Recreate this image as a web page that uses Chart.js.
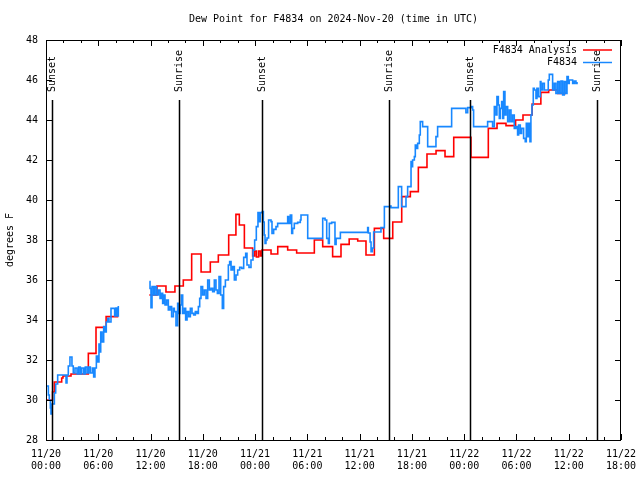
<!DOCTYPE html>
<html>
<head>
<meta charset="utf-8">
<script src="https://cdn.jsdelivr.net/npm/chart.js@4"></script>
<style>
  html, body { margin: 0; padding: 0; background: #fff; }
</style>
</head>
<body>
<canvas id="chart" width="640" height="480"></canvas>
<script>
// hours since 2024-11-20 00:00 UTC
const analysisHours = [0.1, 0.75, 0.95, 1.8, 1.95, 2.87, 4.86, 5.74, 6.9, 8.3, 10,
  11.86, 12.74, 13.77, 14.8, 15.76, 16.72, 17.8, 18.86, 19.78, 20.97,
  21.8, 22.19, 22.77, 23.72, 23.95, 24.15, 24.4, 24.6, 24.79, 25.83,
  26.6, 27.74, 28.77, 30.8, 31.76, 32.9, 33.86, 34.8, 35.78, 36.73,
  37.69, 38.76, 39.8, 40.83, 41.82, 42.74, 43.73, 44.77, 45.8, 46.8,
  48.78, 50.77, 51.77, 52.8, 53.9, 54.75, 55.8, 56.8, 57.7, 58.73, 59.7];
const analysisTemps = [30.0, 30.4, 30.9, 31.1, 31.2, 31.3, 32.33, 33.63, 34.17, 34.17, null,
  35.25, 35.7, 35.4, 35.7, 36.0, 37.3, 36.4, 36.9, 37.25, 38.25,
  39.28, 38.75, 37.6, 37.2, 37.45, 37.15, 37.45, 37.2, 37.5, 37.3,
  37.67, 37.5, 37.35, 38.0, 37.67, 37.17, 37.78, 38.05, 37.95, 37.25,
  38.58, 38.08, 38.9, 40.17, 40.42, 41.63, 42.3, 42.47, 42.17, 43.13,
  42.13, 43.58, 43.83, 43.72, 44.0, 44.25, 44.8, 45.38, 45.5, 45.33, 45.33];

const obsHours = [
  0.11, 0.27, 0.38, 0.5, 0.57, 0.69, 0.84, 0.96, 1.11, 1.34,
  2.3, 2.41, 2.56, 2.75, 2.98, 3.13, 3.33, 3.56, 3.75, 3.94,
  4.1, 4.33, 4.51, 4.71, 4.9, 5.09, 5.32, 5.47, 5.62, 5.78,
  5.93, 6.08, 6.2, 6.28, 6.43, 6.62, 6.77, 6.92, 7.08, 7.23,
  7.46, 7.77, 7.88, 8.03, 8.15, 8.3, 10,
  11.86, 11.94, 12.05, 12.17, 12.36, 12.51, 12.7, 12.9, 13.09, 13.24,
  13.39, 13.51, 13.66, 13.85, 14.04, 14.23, 14.42, 14.62, 14.73, 14.92,
  15.11, 15.27, 15.42, 15.53, 15.69, 15.88, 16.03, 16.19, 16.38, 16.57,
  16.76, 16.95, 17.14, 17.33, 17.49, 17.64, 17.79, 17.98, 18.17, 18.37,
  18.56, 18.75, 18.94, 19.13, 19.32, 19.51, 19.67, 19.86, 20.05, 20.24,
  20.39, 20.59, 20.93, 21.08, 21.24, 21.43, 21.62, 21.81, 22.0, 22.23,
  22.46, 22.69, 22.92, 23.07, 23.3, 23.53, 23.76, 23.95, 24.14, 24.33,
  24.49, 24.6, 24.83, 24.95, 25.05, 25.14, 25.25, 25.37, 25.55, 25.83,
  25.94, 26.13, 26.4, 26.59, 27.74, 27.85, 28.04, 28.2, 28.31, 28.5,
  28.89, 29.19, 29.27, 30.04, 31.76, 32.03, 32.22, 32.41, 32.52, 32.79,
  33.17, 33.3, 33.79, 36.92, 37.0, 37.2, 37.31, 37.45, 37.61, 38.45,
  38.84, 39.5, 39.6, 40.44, 40.82, 41.32, 41.51, 41.9, 41.98, 42.08,
  42.28, 42.39, 42.5, 42.66, 42.85, 42.96, 43.23, 43.81, 44.76, 44.95,
  46.56, 48.2, 48.4, 48.78, 48.97, 49.08, 50.69, 51.26, 51.46, 51.65,
  51.76, 51.92, 52.03, 52.14, 52.3, 52.41, 52.53, 52.68, 52.8, 52.99,
  53.18, 53.37, 53.56, 53.75, 53.94, 54.13, 54.25, 54.44, 54.59, 54.82,
  55.01, 55.13, 55.28, 55.4, 55.55, 55.66, 55.78, 55.93, 56.05, 56.24,
  56.35, 56.51, 56.74, 56.81, 57.0, 57.2, 57.65, 57.77, 58.15, 58.34,
  58.53, 58.73, 58.92, 59.11, 59.3, 59.49, 59.68, 59.8, 59.95, 60.06,
  60.45, 60.64, 60.83, 60.95];
const obsTemps = [
  30.7, 30.25, 30.0, 29.6, 29.3, 29.8, 29.8, 30.35, 30.8, 31.25,
  30.85, 31.25, 31.7, 32.15, 31.7, 31.35, 31.6, 31.3, 31.65, 31.3,
  31.6, 31.3, 31.65, 31.35, 31.65, 31.35, 31.6, 31.15, 31.6, 32.2,
  31.9, 32.8, 32.4, 33.4, 32.9, 33.67, 33.4, 33.9, 34.08, 33.9,
  34.58, 34.58, 34.2, 34.6, 34.2, 34.7, null,
  35.92, 35.58, 34.62, 35.67, 35.25, 35.67, 35.25, 35.5, 35.08, 35.33,
  34.83, 35.25, 34.75, 35.0, 34.5, 34.67, 34.17, 34.58, 34.42, 33.72,
  34.83, 34.33, 34.75, 35.25, 34.33, 34.58, 34.0, 34.42, 34.17, 34.58,
  34.33, 34.25, 34.42, 34.33, 34.67, 35.08, 35.67, 35.25, 35.5, 35.08,
  36.0, 35.5, 35.58, 35.42, 36.0, 35.5, 35.33, 36.17, 35.25, 34.58,
  35.67, 36.0, 36.75, 36.92, 36.5, 36.67, 36.0, 36.25, 36.5, 36.63,
  36.58, 37.13, 37.33, 36.75, 36.63, 37.0, 37.5, 38.0, 38.67, 39.37,
  38.92, 39.37, 39.42, 38.9, 38.25, 37.83, 38.0, 38.1, 39.0, 38.92,
  38.33, 38.53, 38.67, 38.83, 39.17, 38.83, 39.25, 38.33, 38.58, 38.83,
  38.88, 39.0, 39.25, 38.08, 39.08, 39.0, 38.08, 37.83, 38.83, 38.88,
  37.78, 38.08, 38.38, 38.62, 38.35, 37.9, 37.42, 37.6, 38.4, 38.62,
  39.67, 39.7, 39.62, 40.67, 39.67, 40.17, 40.67, 41.92, 41.67, 42.0,
  42.17, 42.75, 42.58, 42.83, 43.25, 43.92, 43.67, 42.67, 43.17, 43.67,
  44.58, 44.37, 44.62, 44.67, 44.5, 43.67, 43.92, 43.67, 44.67, 44.25,
  45.17, 44.75, 44.08, 44.58, 44.92, 44.08, 45.42, 44.25, 44.67, 43.92,
  44.5, 43.92, 44.25, 43.58, 43.67, 43.25, 43.75, 43.33, 43.58, 43.08,
  42.92, 43.83, 43.17, 43.83, 42.92, 44.25, 44.75, 45.58, 45.5, 45.08,
  45.58, 45.17, 45.92, 45.5, 45.83, 45.5, 46.0, 46.28, 45.5, 45.83,
  45.33, 45.92, 45.33, 45.95, 45.25, 45.92, 45.33, 46.17, 45.83, 46.0,
  45.83, 45.95, 45.83, 45.9];

const sunHours = [0.72, 15.32, 24.74, 39.4, 48.67, 63.3];
const sunLabels = ['Sunset', 'Sunrise', 'Sunset', 'Sunrise', 'Sunset', 'Sunrise'];

const xTickLabels = [
  ['11/20', '00:00'], ['11/20', '06:00'], ['11/20', '12:00'], ['11/20', '18:00'],
  ['11/21', '00:00'], ['11/21', '06:00'], ['11/21', '12:00'], ['11/21', '18:00'],
  ['11/22', '00:00'], ['11/22', '06:00'], ['11/22', '12:00'], ['11/22', '18:00']];

const RED = '#ff0000';
const BLUE = '#1888ff';
const FONT = { family: '"DejaVu Sans Mono", monospace', size: 10, weight: 'normal' };

const toPoints = (xs, ys) => xs.map((h, i) => ({ x: h, y: ys[i] }));

// frame, inward ticks, sunrise/sunset markers and key, gnuplot style
const gnuplotFrame = {
  id: 'gnuplotFrame',
  afterDatasetsDraw(chart) {
    const { ctx, chartArea: a, scales: { x, y } } = chart;
    ctx.save();
    ctx.strokeStyle = '#000';
    ctx.lineWidth = 1;
    ctx.strokeRect(a.left + 0.5, a.top + 0.5, a.right - a.left - 1, a.bottom - a.top);

    ctx.beginPath();
    for (let h = 0; h <= 66; h += 2) {
      const px = Math.round(x.getPixelForValue(h)) + 0.5;
      const len = h % 6 === 0 ? 6 : 3;
      ctx.moveTo(px, a.bottom); ctx.lineTo(px, a.bottom - len);
      ctx.moveTo(px, a.top); ctx.lineTo(px, a.top + len);
    }
    for (let v = 28; v <= 48; v += 2) {
      const py = Math.round(y.getPixelForValue(v)) + 0.5;
      ctx.moveTo(a.left, py); ctx.lineTo(a.left + 6, py);
      ctx.moveTo(a.right, py); ctx.lineTo(a.right - 6, py);
    }
    ctx.stroke();

    ctx.font = '10px "DejaVu Sans Mono", monospace';
    ctx.fillStyle = '#000';
    ctx.lineWidth = 1.5;
    sunHours.forEach((h, i) => {
      const px = Math.round(x.getPixelForValue(h)) + 0.5;
      const top = y.getPixelForValue(45);
      ctx.beginPath();
      ctx.moveTo(px, top); ctx.lineTo(px, a.bottom);
      ctx.stroke();
      ctx.save();
      ctx.translate(px, top - 8);
      ctx.rotate(-Math.PI / 2);
      ctx.textAlign = 'left';
      ctx.textBaseline = 'middle';
      ctx.fillText(sunLabels[i], 0, 0);
      ctx.restore();
    });

    const key = [['F4834 Analysis', RED], ['F4834', BLUE]];
    key.forEach(([label, color], i) => {
      const ky = 50 + i * 12.5;
      ctx.textAlign = 'right';
      ctx.textBaseline = 'middle';
      ctx.fillStyle = '#000';
      ctx.fillText(label, 577, ky);
      ctx.strokeStyle = color;
      ctx.lineWidth = 1.5;
      ctx.beginPath();
      ctx.moveTo(583, ky); ctx.lineTo(612, ky);
      ctx.stroke();
    });
    ctx.restore();
  }
};

new Chart(document.getElementById('chart'), {
  type: 'line',
  data: {
    datasets: [
      { label: 'F4834', data: toPoints(obsHours, obsTemps), borderColor: BLUE,
        borderWidth: 1.6, pointRadius: 0, stepped: 'before', spanGaps: false, fill: false },
      { label: 'F4834 Analysis', data: toPoints(analysisHours, analysisTemps), borderColor: RED,
        borderWidth: 1.6, pointRadius: 0, stepped: 'before', spanGaps: false, fill: false }
    ]
  },
  options: {
    responsive: false,
    animation: false,
    layout: { padding: { left: 0, right: 19, top: 0, bottom: 0 } },
    plugins: {
      legend: { display: false },
      tooltip: { enabled: false },
      title: {
        display: true, fullSize: false,
        text: 'Dew Point for F4834 on 2024-Nov-20 (time in UTC)',
        color: '#000', font: FONT, padding: { top: 13, bottom: 15 }
      }
    },
    scales: {
      x: {
        type: 'linear', min: 0, max: 66,
        afterFit: s => { s.height = 40; s.paddingLeft = 0; s.paddingRight = 0; },
        grid: { display: false, drawTicks: false },
        border: { display: false },
        ticks: {
          stepSize: 6, padding: 8, maxRotation: 0, autoSkip: false, color: '#000', font: FONT,
          callback: v => xTickLabels[Math.round(v / 6)]
        }
      },
      y: {
        min: 28, max: 48,
        afterFit: s => { s.width = 46; s.paddingTop = 0; s.paddingBottom = 0; },
        grid: { display: false, drawTicks: false },
        border: { display: false },
        ticks: { stepSize: 2, padding: 8, color: '#000', font: FONT },
        title: { display: true, text: 'degrees F', color: '#000', font: FONT, padding: { top: 4, bottom: 0 } }
      }
    }
  },
  plugins: [gnuplotFrame]
});
</script>
</body>
</html>
